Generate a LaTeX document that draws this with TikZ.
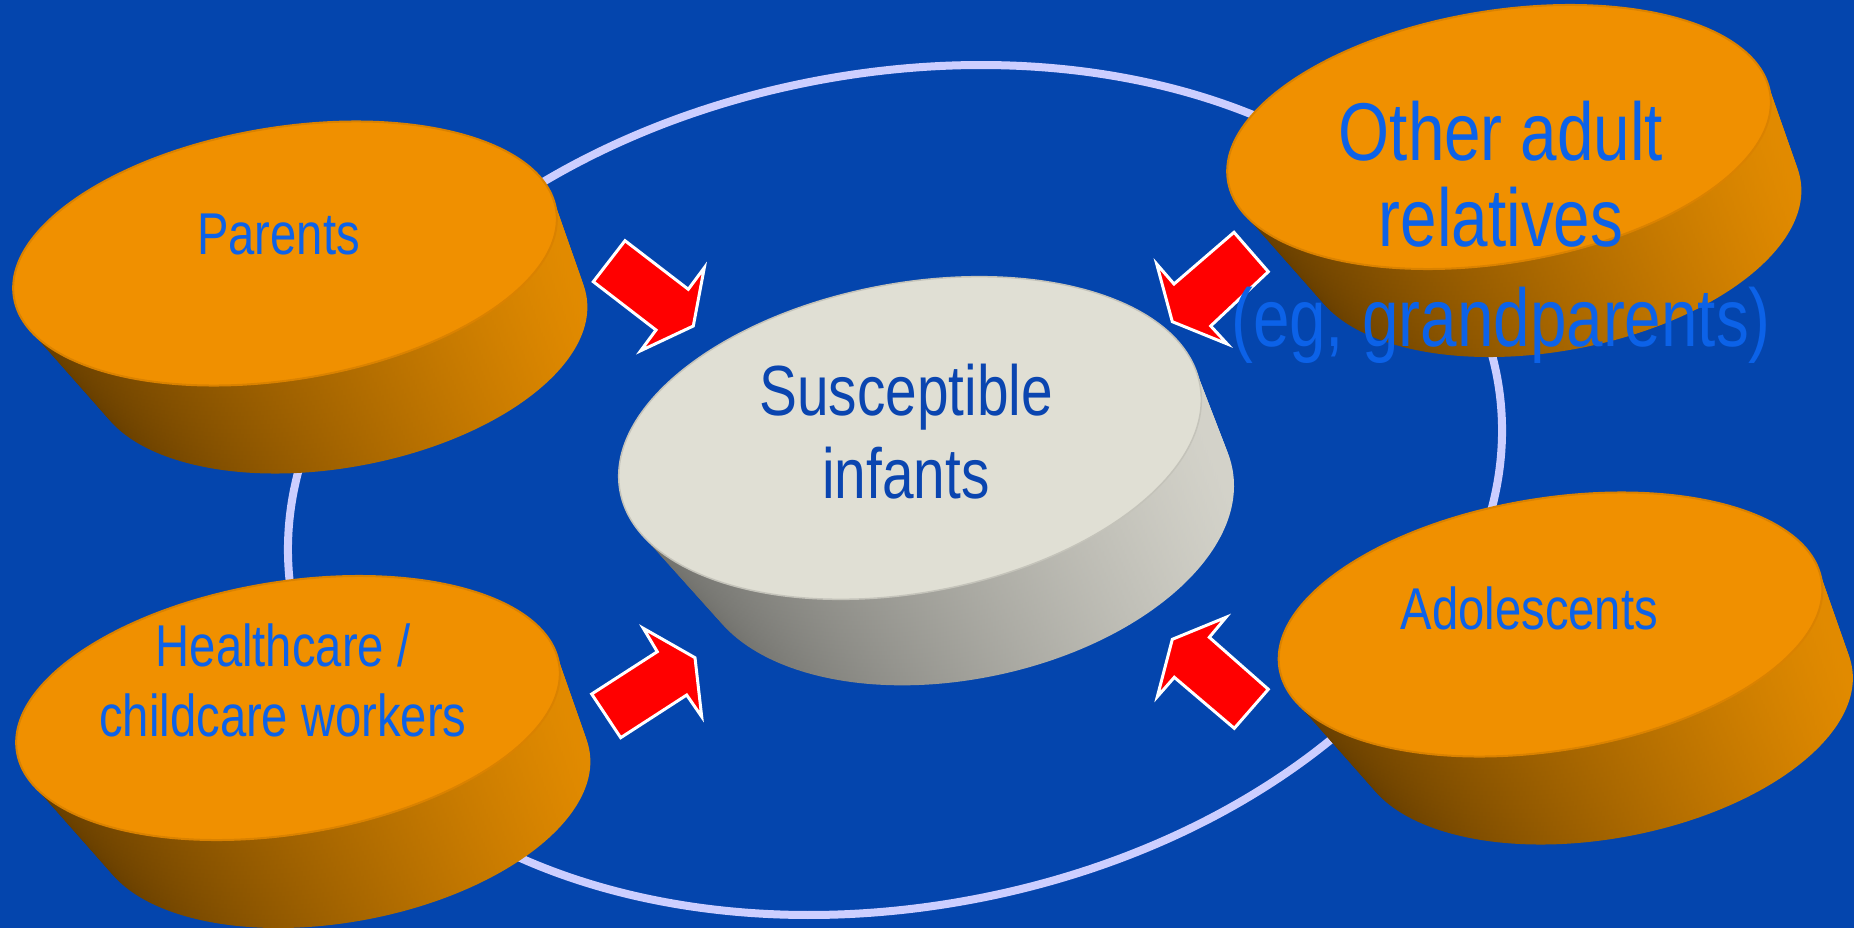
\documentclass[tikz,border=0pt]{standalone}
\usepackage{fontspec}
\newfontfamily\narrowsans{Liberation Sans}[FakeStretch=0.8]
\definecolor{bgblue}{RGB}{4,69,173}
\definecolor{ringcol}{RGB}{204,206,255}
\definecolor{orangetop}{RGB}{240,144,0}
\definecolor{orangerim}{RGB}{218,130,0}
\definecolor{orangedark}{RGB}{96,58,0}
\definecolor{orangemid}{RGB}{160,95,0}
\definecolor{orangelight}{RGB}{228,140,0}
\definecolor{graytop}{RGB}{224,223,212}
\definecolor{grayrim}{RGB}{196,195,186}
\definecolor{graydark}{RGB}{106,106,102}
\definecolor{graymid}{RGB}{158,157,150}
\definecolor{graylight}{RGB}{214,213,204}
\definecolor{lbltext}{RGB}{12,98,232}
\definecolor{centertext}{RGB}{10,69,176}
\newcommand{\puck}[9]{%
  \foreach \i in {20,19,...,1}{%
    \pgfmathsetmacro{\pk}{\i/20}%
    \begin{scope}[shift={({#1+\pk*#6},{#2+\pk*#7})}, xscale={1-\pk*(1-#8)}, rotate=#5]
      \path[#9side] (0,0) ellipse[x radius=#3, y radius=#4];
    \end{scope}
  }%
  \begin{scope}[shift={(#1,#2)}, rotate=#5]
    \path[#9top] (0,0) ellipse[x radius=#3, y radius=#4];
  \end{scope}%
}
\begin{document}
\begin{tikzpicture}[x=1pt,y=-1pt,
  ring/.style={draw=ringcol, line width=8pt},
  orangeside/.style={left color=orangedark, middle color=orangemid, right color=orangelight},
  orangetop/.style={fill=orangetop, draw=orangerim, line width=2pt},
  grayside/.style={left color=graydark, middle color=graymid, right color=graylight},
  graytop/.style={fill=graytop, draw=grayrim, line width=1.5pt},
  blockarrow/.style={fill=red, draw=white, line width=3pt, line join=miter},
  lbl/.style={font=\narrowsans\fontsize{59}{70}\selectfont, text=lbltext, align=center, inner sep=0pt},
  biglbl/.style={font=\narrowsans\fontsize{82}{86}\selectfont, text=lbltext, align=center, inner sep=0pt},
  centerlbl/.style={font=\narrowsans\fontsize{71}{83.3}\selectfont, text=centertext, align=center, inner sep=0pt}]
\useasboundingbox (0,0) rectangle (1854,928);
\fill[bgblue] (0,0) rectangle (1854,928);
% ring
\begin{scope}[shift={(895,490)}, rotate=10.6]
  \path[ring] (0,0) ellipse[x radius=612.6, y radius=416.8];
\end{scope}
% pucks
\puck{285}{253.5}{274.6}{126.1}{9.2}{55}{88}{0.91}{orange}
\puck{288}{708}{274.6}{126.1}{9.2}{55}{88}{0.91}{orange}
\puck{1499}{137}{274.6}{126.1}{9.2}{55}{88}{0.91}{orange}
\puck{1550.5}{624.5}{274.6}{126.1}{9.2}{55}{88}{0.91}{orange}
\puck{910}{438}{294.8}{154.8}{10.4}{56}{86}{0.92}{gray}
% arrows
\path[blockarrow] (593.3,281.7) -- (625,240.7) -- (688.3,289.3) -- (704.3,267.7) -- (693.3,326) -- (640.7,350.7) -- (656,330) -- cycle;
\path[blockarrow] (1234,232.3) -- (1268.3,271.7) -- (1210.7,326) -- (1227.3,344) -- (1172.3,321.7) -- (1156.7,264) -- (1174,284) -- cycle;
\path[blockarrow] (591.7,694) -- (620.7,737.7) -- (686.7,695) -- (701.7,716.7) -- (695,657.7) -- (643.3,628.3) -- (657.3,651.7) -- cycle;
\path[blockarrow] (1234.3,728.3) -- (1268.3,689.3) -- (1209.3,637.3) -- (1226,617.3) -- (1172.3,639.3) -- (1157.3,696.7) -- (1174.3,677.3) -- cycle;
% labels (base anchor = baseline of last line)
\node[lbl, anchor=base] (parents) at (278.5,254) {Parents};
\node[lbl, anchor=base] (health) at (283,736.7) {Healthcare /\\childcare workers};
\node[lbl, anchor=base] (adol) at (1529.4,629) {Adolescents};
\node[centerlbl, anchor=base] (infants) at (906,498.3) {Susceptible\\infants};
\node[biglbl, anchor=base] (other) at (1501,346.5) {Other adult\\relatives\\[14pt](eg, grandparents)};
\end{tikzpicture}
\end{document}
